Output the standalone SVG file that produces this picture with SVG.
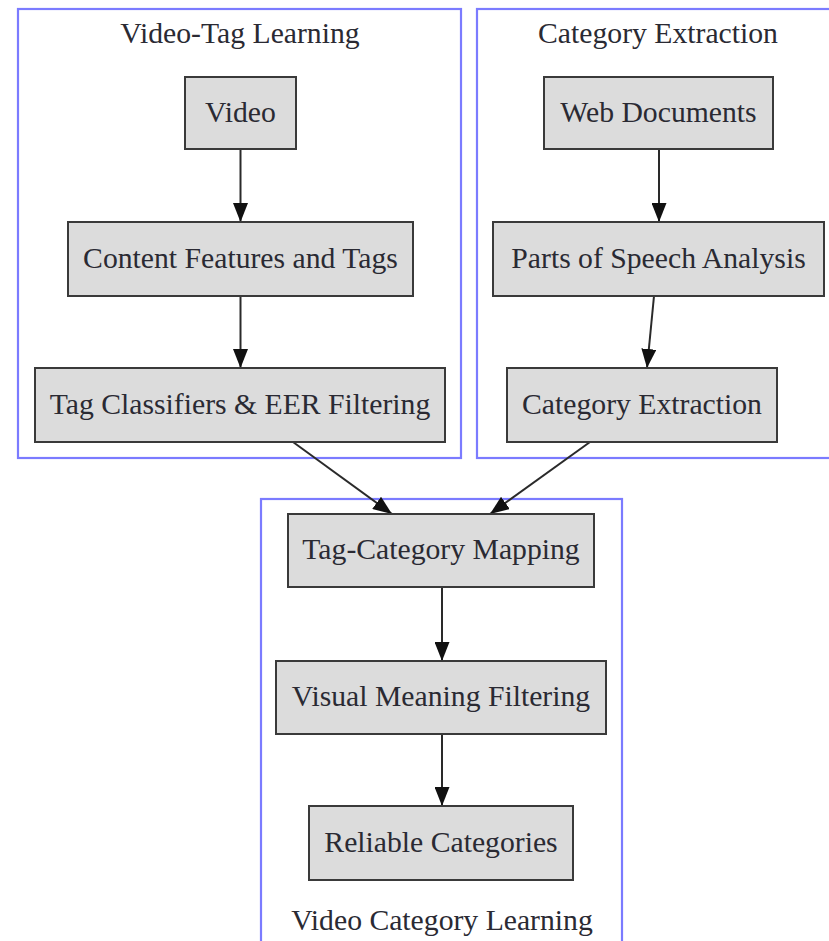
<svg xmlns="http://www.w3.org/2000/svg" width="829" height="941" viewBox="0 0 829 941">
<style>
.cl{fill:none;stroke:#7b7bff;stroke-width:2.2}
.nd{fill:#dcdcdc;stroke:#3a3a3a;stroke-width:2}
.tx{font-family:'Liberation Serif',serif;font-size:29.7px;fill:#2a2a33;text-anchor:middle}
.ed{stroke:#2a2a2a;stroke-width:2;fill:none;marker-end:url(#ah)}
</style>
<defs>
<marker id="ah" markerUnits="userSpaceOnUse" markerWidth="20" markerHeight="15" refX="19" refY="7.5" orient="auto">
<path d="M0,0 L19,7.5 L0,15 z" fill="#111"/>
</marker>
</defs>
<rect width="829" height="941" fill="#fff"/>
<g id="cluster_videotag">
<rect class="cl" x="18" y="9" width="443" height="449"/>
<text class="tx" x="240" y="43">Video-Tag Learning</text>
</g>
<g id="cluster_catext">
<rect class="cl" x="477" y="9" width="360" height="449"/>
<text class="tx" x="658" y="43">Category Extraction</text>
</g>
<g id="cluster_videocat">
<rect class="cl" x="261" y="499" width="361" height="460"/>
<text class="tx" x="442" y="930">Video Category Learning</text>
</g>
<g id="edges">
<line class="ed" x1="240.5" y1="149" x2="240.5" y2="222"/>
<line class="ed" x1="240.5" y1="296" x2="240.5" y2="368"/>
<line class="ed" x1="659" y1="149" x2="659" y2="222"/>
<line class="ed" x1="654" y1="296" x2="647" y2="368"/>
<line class="ed" x1="293" y1="442" x2="392" y2="514"/>
<line class="ed" x1="590" y1="442" x2="490" y2="514"/>
<line class="ed" x1="442" y1="587" x2="442" y2="661"/>
<line class="ed" x1="442" y1="734" x2="442" y2="806"/>
</g>
<g id="n_video">
<rect class="nd" x="185" y="77" width="111" height="72"/>
<text class="tx" x="240.5" y="122">Video</text>
</g>
<g id="n_content">
<rect class="nd" x="68" y="222" width="345" height="74"/>
<text class="tx" x="240.5" y="268">Content Features and Tags</text>
</g>
<g id="n_tagclass">
<rect class="nd" x="35" y="368" width="410" height="74"/>
<text class="tx" x="240" y="414">Tag Classifiers &amp; EER Filtering</text>
</g>
<g id="n_web">
<rect class="nd" x="544" y="77" width="229" height="72"/>
<text class="tx" x="658.5" y="122">Web Documents</text>
</g>
<g id="n_pos">
<rect class="nd" x="493" y="222" width="331" height="74"/>
<text class="tx" x="658.5" y="268">Parts of Speech Analysis</text>
</g>
<g id="n_catext">
<rect class="nd" x="507" y="368" width="270" height="74"/>
<text class="tx" x="642" y="414">Category Extraction</text>
</g>
<g id="n_mapping">
<rect class="nd" x="288" y="514" width="306" height="73"/>
<text class="tx" x="441" y="559">Tag-Category Mapping</text>
</g>
<g id="n_visual">
<rect class="nd" x="276" y="661" width="330" height="73"/>
<text class="tx" x="441" y="706">Visual Meaning Filtering</text>
</g>
<g id="n_reliable">
<rect class="nd" x="309" y="806" width="264" height="74"/>
<text class="tx" x="441" y="852">Reliable Categories</text>
</g>
</svg>
